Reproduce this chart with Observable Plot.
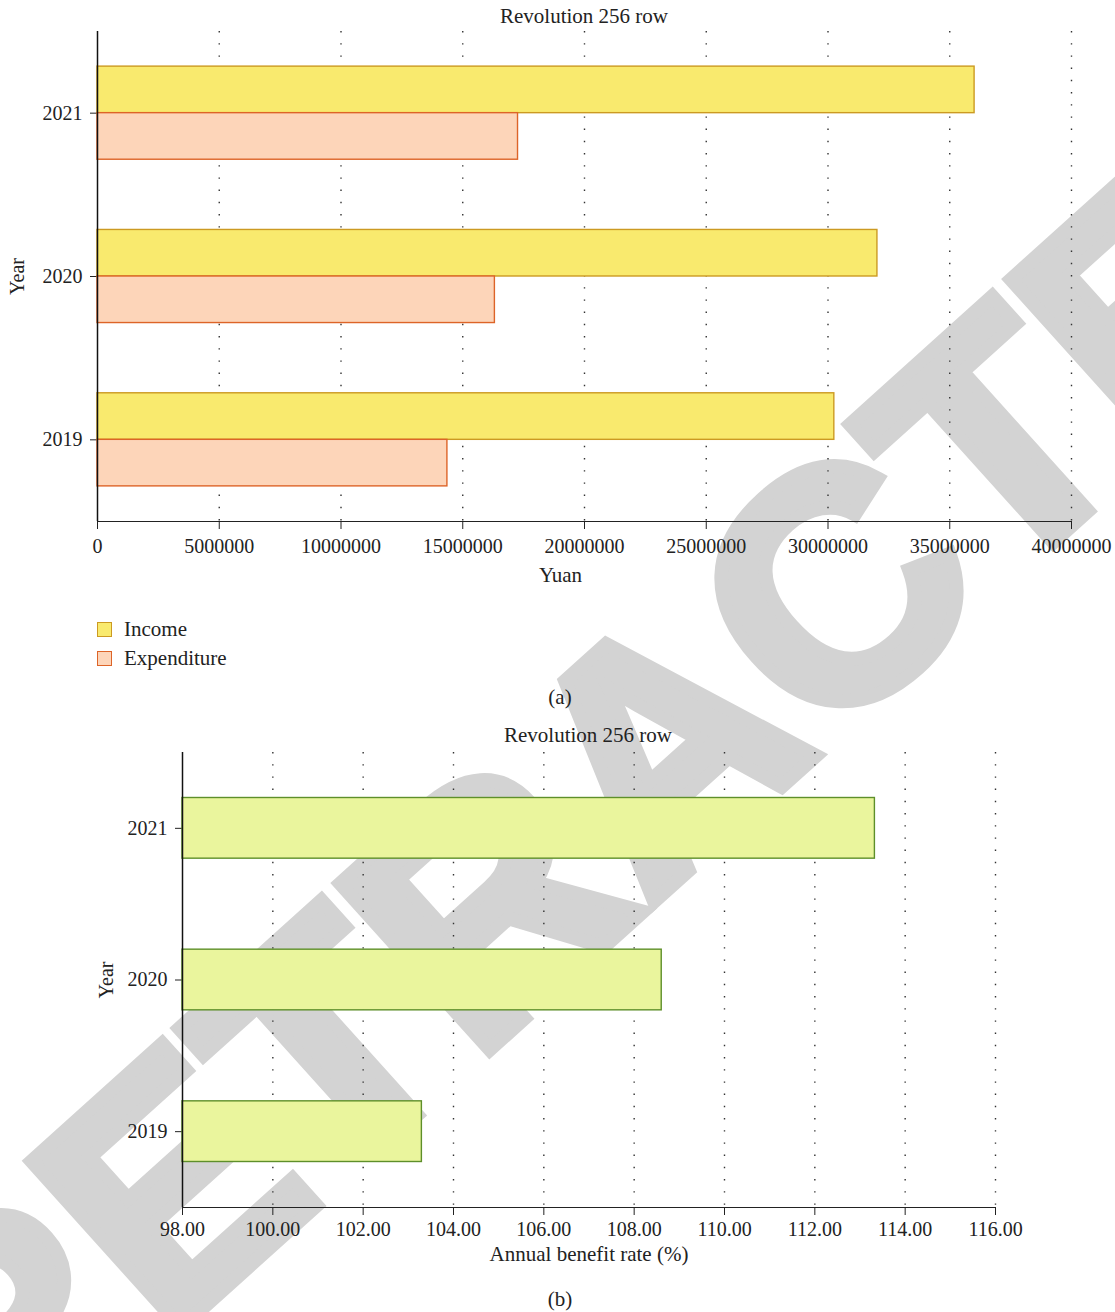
<!DOCTYPE html>
<html><head><meta charset="utf-8">
<script src="https://cdn.jsdelivr.net/npm/d3@7"></script>
<script src="https://cdn.jsdelivr.net/npm/@observablehq/plot@0.6"></script>
<style>
body{margin:0;background:#fff;}
#page{position:relative;width:1115px;height:1312px;overflow:hidden;font-family:"Liberation Serif",serif;color:#222;}
.wm{position:absolute;left:660px;top:745px;transform:translate(-50%,-50%) rotate(-42deg);font:bold 325px "Liberation Sans",Arial,sans-serif;color:#d3d3d3;-webkit-text-stroke:14px #d3d3d3;white-space:nowrap;line-height:1;z-index:0;}
.layer{position:absolute;left:0;z-index:1;}
.t{position:absolute;font-size:21px;white-space:nowrap;transform:translate(-50%,-50%);z-index:2;line-height:1;}
.lg{position:absolute;left:97px;z-index:2;display:flex;align-items:center;font-size:21px;line-height:1;}
.sw{width:13px;height:13px;margin-right:12px;}
</style></head><body>
<div id="page">
  <div class="wm">RETRACTED</div>
  <div class="t" style="left:584px;top:16px">Revolution 256 row</div>
  <div id="chartA" class="layer" style="top:0"></div>
  <div class="lg" style="top:619px"><div class="sw" style="background:#f9ea6e;border:1.5px solid #cc9a22"></div>Income</div>
  <div class="lg" style="top:648px"><div class="sw" style="background:#fdd5b9;border:1.5px solid #dd6428"></div>Expenditure</div>
  <div class="t" style="left:560px;top:697px">(a)</div>
  <div class="t" style="left:588px;top:735px">Revolution 256 row</div>
  <div id="chartB" class="layer" style="top:720px"></div>
  <div class="t" style="left:560px;top:1299px">(b)</div>
</div>
<script>
// ---- data ----
const years = ["2019", "2020", "2021"];
const seriesNames = ["Income", "Expenditure"];
const income = [30260000, 32030000, 36020000];
const expenditure = [14370000, 16320000, 17270000];
const benefitRate = [103.30, 108.61, 113.33];
const yuanTicks = [0, 5000000, 10000000, 15000000, 20000000, 25000000, 30000000, 35000000, 40000000];
const rateTicks = [98, 100, 102, 104, 106, 108, 110, 112, 114, 116];
const xLabelA = "Yuan";
const xLabelB = "Annual benefit rate (%)";
const yLabel = "Year";

const incomeData = years.map((y, i) => ({year: y, series: seriesNames[0], value: income[i]}));
const expData = years.map((y, i) => ({year: y, series: seriesNames[1], value: expenditure[i]}));
const rateData = years.map((y, i) => ({year: y, rate: benefitRate[i]}));
const yearOrder = years.slice().reverse();

const baseStyle = {fontFamily: "Liberation Serif", fontSize: "20px", color: "#222", background: "transparent", overflow: "visible"};
const gridStyle = {stroke: "#333", strokeOpacity: 1, strokeWidth: 1.4, strokeDasharray: "1.4,10.8"};

// ---- chart (a) ----
const A = {width: 1115, height: 600, top: 31, bottom: 79, left: 97, right: 44};
const padInA = 0.43, padOutA = 0.215;
const stepA = (A.height - A.top - A.bottom) / (years.length - padInA + 2 * padOutA);
const bwA = stepA * (1 - padInA);

const plotA = Plot.plot({
  width: A.width, height: A.height,
  marginTop: A.top, marginBottom: A.bottom, marginLeft: A.left, marginRight: A.right,
  style: baseStyle,
  x: {domain: [yuanTicks[0], yuanTicks[yuanTicks.length - 1]], ticks: yuanTicks, tickFormat: "d",
      label: null, tickSize: 8, tickPadding: 9, line: true},
  y: {domain: yearOrder, paddingInner: padInA, paddingOuter: padOutA, round: false,
      label: yLabel, labelAnchor: "center", labelOffset: 88, labelArrow: false, tickSize: 7, tickPadding: 8},
  marks: [
    Plot.gridX(yuanTicks.slice(1), gridStyle),
    Plot.barX(incomeData, {x: "value", y: "year", fill: "#f9ea6e", stroke: "#cc9a22", strokeWidth: 1.4, insetTop: 0, insetBottom: bwA / 2}),
    Plot.barX(expData, {x: "value", y: "year", fill: "#fdd5b9", stroke: "#dd6428", strokeWidth: 1.4, insetTop: bwA / 2, insetBottom: 0}),
    Plot.ruleX([yuanTicks[0]], {stroke: "#111", strokeWidth: 1.5}),
    Plot.text([xLabelA], {text: d => d, frameAnchor: "bottom", dx: -24, dy: 60, fontSize: 21, fill: "#222"})
  ]
});
document.getElementById("chartA").appendChild(plotA);

// ---- chart (b) ----
const B = {width: 1115, height: 560, top: 32, bottom: 73, left: 182, right: 120};
const plotB = Plot.plot({
  width: B.width, height: B.height,
  marginTop: B.top, marginBottom: B.bottom, marginLeft: B.left, marginRight: B.right,
  style: baseStyle,
  x: {domain: [rateTicks[0], rateTicks[rateTicks.length - 1]], ticks: rateTicks, tickFormat: ".2f",
      label: null, tickSize: 8, tickPadding: 6, line: true},
  y: {domain: yearOrder, paddingInner: 0.6, paddingOuter: 0.3, round: false,
      label: yLabel, labelAnchor: "center", labelOffset: 84, labelArrow: false, tickSize: 7, tickPadding: 8},
  marks: [
    Plot.gridX(rateTicks.slice(1), gridStyle),
    Plot.barX(rateData, {x1: rateTicks[0], x2: "rate", y: "year", fill: "#eaf59d", stroke: "#5e8f2a", strokeWidth: 1.4}),
    Plot.ruleX([rateTicks[0]], {stroke: "#111", strokeWidth: 1.5}),
    Plot.text([xLabelB], {text: d => d, frameAnchor: "bottom", dy: 53, fontSize: 21, fill: "#222"})
  ]
});
document.getElementById("chartB").appendChild(plotB);
</script>
</body></html>
